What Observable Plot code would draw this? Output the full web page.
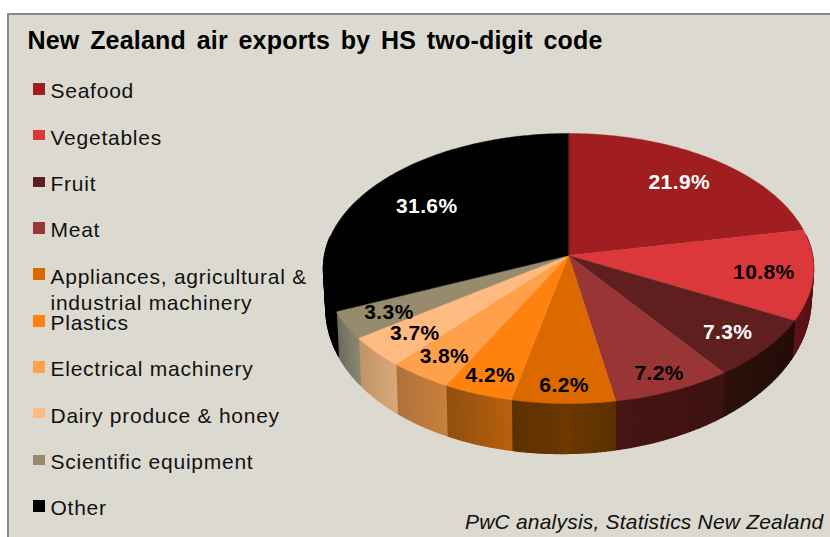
<!DOCTYPE html>
<html><head><meta charset="utf-8">
<style>
html,body{margin:0;padding:0;background:#fff;overflow:hidden;width:830px;height:537px}
#panel{position:absolute;left:7px;top:13px;width:830px;height:530px;background:#dcdad0;border-left:2px solid #888;border-top:2px solid #888}
#chart{position:absolute;left:0;top:0}
#chart svg{background:transparent;display:block}
</style>
<script src="https://cdn.jsdelivr.net/npm/d3@7"></script>
<script src="https://cdn.jsdelivr.net/npm/@observablehq/plot@0.6"></script>
</head><body><div id="panel"></div><div id="chart"></div>
<script>
const categories = ["Seafood","Vegetables","Fruit","Meat","Appliances, agricultural & industrial machinery","Plastics","Electrical machinery","Dairy produce & honey","Scientific equipment","Other"];
const shares = [21.9,10.8,7.3,7.2,6.2,4.2,3.8,3.7,3.3,31.6];
const topColors = ["#a01e20","#dc383b","#5e1f1e","#993534","#dc6900","#ff820e","#ffa04a","#ffba82","#968c6d","#000000"];
const sideLeft = ["#2a0c0c","#5e1218","#2c100b","#451513","#7d3f00","#b8610f","#c8803f","#d8a878","#8a8874","#000000"];
const sideRight = ["#2a0c0c","#4a0e14","#240c09","#3d1211","#5c3000","#8f4e10","#b0703a","#c09468","#6c6a58","#000000"];
const labelColors = ["#fff","#000","#fff","#000","#000","#000","#000","#000","#000","#fff"];
const labelRadius = [0.755,0.80,0.818,0.876,0.882,0.871,0.844,0.807,0.814,0.72];
const swatchHeights = [12,10,10,12,12,12,12,10,10,12];
const legendLines = [["Seafood"],["Vegetables"],["Fruit"],["Meat"],["Appliances, agricultural &","industrial machinery"],["Plastics"],["Electrical machinery"],["Dairy produce & honey"],["Scientific equipment"],["Other"]];

// Perspective view of the pie's top and bottom discs
const cx=568, cy=255, a=244, b=133.8, k=0.0963;
function top3d(th,r=1){const X=r*Math.sin(th),Y=-r*Math.cos(th),d=1-k*Y;return [cx+a*X/d,cy+b*Y/d];}
function bottom3d(th){const X=Math.sin(th),Y=-Math.cos(th);const t=top3d(th);
  const depth=33.6+16.4*Y-4.76*X; return [cx+(t[0]-cx)*0.99,t[1]+depth];}

const rad=p=>p/100*2*Math.PI;
let cum=0; const slices=shares.map((v,i)=>{const s=cum;cum+=v;return {i,name:categories[i],start:s,end:cum,mid:s+v/2};});

const faces=[],strips=[];
slices.forEach(s=>{
  const n=Math.max(2,Math.ceil(s.end-s.start)*3);
  faces.push({key:s.name,x:cx,y:cy,fill:topColors[s.i]});
  for(let j=0;j<=n;j++){const p=top3d(rad(s.start+(s.end-s.start)*j/n));faces.push({key:s.name,x:p[0],y:p[1],fill:topColors[s.i]});}
  const ci=d3.interpolateRgb(sideLeft[s.i],sideRight[s.i]);
  for(let j=0;j<n;j++){
    const t1=rad(s.start+(s.end-s.start)*j/n),t2=rad(s.start+(s.end-s.start)*(j+1)/n);
    if(Math.cos((t1+t2)/2)>0.15) continue;
    const ang=(t1+t2)/2;
    const frac=ang>Math.PI? (j+0.5)/n : 1-(j+0.5)/n;
    const c=d3.color(ci(frac)).formatHex();
    const key=s.name+"|"+j;
    [top3d(t1),top3d(t2),bottom3d(t2),bottom3d(t1)].forEach(p=>strips.push({key,x:p[0],y:p[1],fill:c}));
  }
});
const labels=slices.map(s=>{const p=top3d(rad(s.mid),labelRadius[s.i]);return {x:p[0],y:p[1],text:s.end-s.start,color:labelColors[s.i]};});

const rowY=i=>89+46.33*i;
const swatches=slices.map(s=>{const h=swatchHeights[s.i],y1=Math.round(rowY(s.i)-h/2);return {x1:33,x2:45,y1,y2:y1+h,fill:topColors[s.i]};});
const legendText=legendLines.flatMap((ls,i)=>ls.map((t,j)=>({x:50,y:rowY(i)+2+j*26,t})));

const plot=Plot.plot({
  width:830,height:537,margin:0,
  x:{domain:[0,830],range:[0,830],axis:null},
  y:{domain:[0,537],range:[0,537],axis:null},
  color:{type:"identity"},
  marks:[
    Plot.line(strips,{x:"x",y:"y",z:"key",fill:"fill",stroke:"fill",strokeWidth:1.2,curve:"linear-closed"}),
    Plot.line(faces,{x:"x",y:"y",z:"key",fill:"fill",stroke:"fill",strokeWidth:0.4,curve:"linear-closed"}),
    Plot.text(labels,{x:"x",y:"y",dy:1,text:d=>d.text.toFixed(1)+"%",fill:"color",fontSize:21,fontWeight:"bold",fontFamily:"Liberation Sans"}),
    Plot.rect(swatches,{x1:"x1",x2:"x2",y1:"y1",y2:"y2",fill:"fill"}),
    Plot.text(legendText,{x:"x",y:"y",text:"t",textAnchor:"start",fontSize:21,fill:"#111",fontFamily:"Liberation Sans"}),
    Plot.text(["New Zealand air exports by HS two-digit code"],{x:27,y:40,textAnchor:"start",fontSize:25,fontWeight:"bold",fill:"#000",fontFamily:"Liberation Sans"}),
    Plot.text(["PwC analysis, Statistics New Zealand"],{x:823,y:522,textAnchor:"end",fontSize:21,fontStyle:"italic",fill:"#111",fontFamily:"Liberation Sans"})
  ]
});
const textGroups=plot.querySelectorAll('g[aria-label="text"]');
const spacing=[["0.4px","0"],["0.75px","0"],["0.2px","3.5px"],["0.2px","0"]];
textGroups.forEach((g,i)=>{g.style.letterSpacing=spacing[i][0];g.style.wordSpacing=spacing[i][1];});
document.getElementById("chart").append(plot);
</script></body></html>
